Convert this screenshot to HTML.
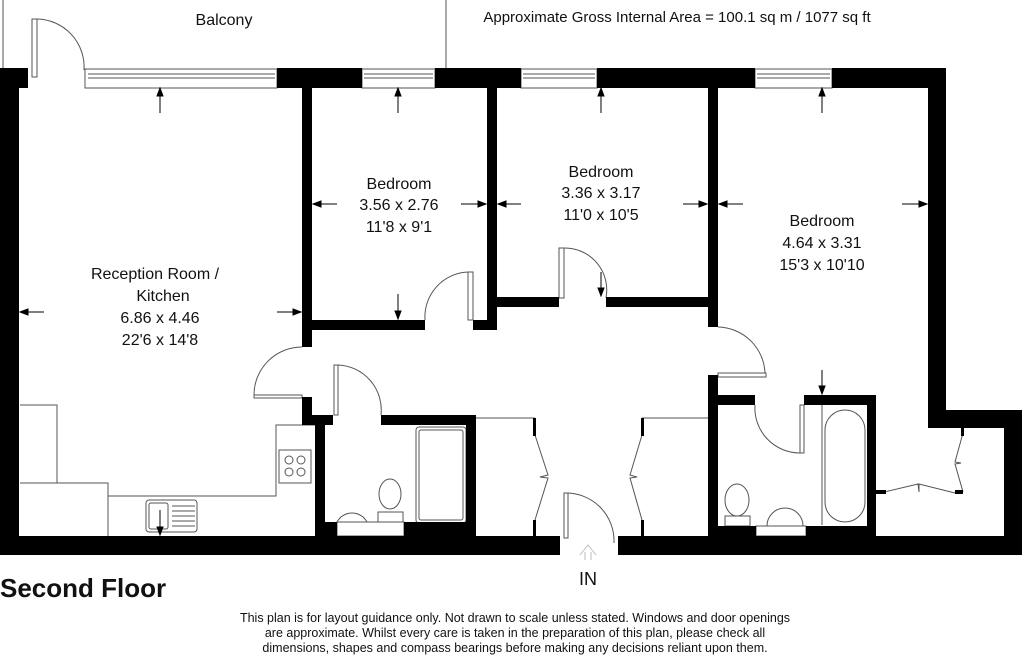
<!DOCTYPE html>
<html><head><style>
body{margin:0;background:#fff}
svg{display:block}
text{font-family:"Liberation Sans",Arial,sans-serif;fill:#111}
</style></head><body>
<svg width="1024" height="658" viewBox="0 0 1024 658" xmlns="http://www.w3.org/2000/svg">
<g fill="none" stroke="#555" stroke-width="1">
<line x1="3" y1="0" x2="3" y2="68"/>
<line x1="446" y1="0" x2="446" y2="68"/>
<rect x="85" y="69" width="192" height="19"/><line x1="88" y1="74" x2="275" y2="74"/><line x1="88" y1="78" x2="275" y2="78"/>
<rect x="362" y="69" width="73" height="19"/><line x1="364" y1="74" x2="433" y2="74"/><line x1="364" y1="78" x2="433" y2="78"/>
<rect x="521" y="69" width="76" height="19"/><line x1="523" y1="74" x2="595" y2="74"/><line x1="523" y1="78" x2="595" y2="78"/>
<rect x="755" y="69" width="77" height="19"/><line x1="757" y1="74" x2="830" y2="74"/><line x1="757" y1="78" x2="830" y2="78"/>
<rect x="32" y="19" width="5" height="58"/><path d="M37 19 A48 48 0 0 1 84 70"/>
<rect x="468" y="272" width="5" height="48"/><path d="M468 272 A45 45 0 0 0 425 320"/>
<rect x="559" y="248" width="5" height="50"/><path d="M564 248 A42 42 0 0 1 606 298"/>
<path d="M302 347 A48 48 0 0 0 254 395"/><rect x="254" y="395" width="48" height="3"/>
<rect x="334" y="365" width="4" height="50"/><path d="M338 365 A45 45 0 0 1 381 415"/>
<rect x="718" y="373" width="48" height="4"/><path d="M718 327 A48 48 0 0 1 765 373"/>
<path d="M755 405 A45 45 0 0 0 800 453"/><rect x="800" y="405" width="4" height="48"/>
<rect x="564" y="493" width="4" height="45"/><path d="M564 493 A48 48 0 0 1 614 543"/>
<line x1="535" y1="418" x2="535" y2="430"/>
<polyline points="535,435 548,475 540,477 548,478 535,520"/>
<polyline points="642,435 630,475 637,477 630,478 642,520"/>
<line x1="642" y1="418" x2="708" y2="418"/>
<line x1="476" y1="418" x2="535" y2="418"/>
<polyline points="880,493 918,484 919,492 919,484 955,493"/>
<polyline points="963,433 955,462 961,463 955,464 963,492"/>
<polyline points="20,405 57,405 57,483"/>
<polyline points="20,483 108,483 108,536"/>
<polyline points="108,496 276,496 276,425 315,425"/>
<rect x="279" y="450" width="32" height="33"/>
<circle cx="289" cy="460" r="4"/><circle cx="301" cy="460" r="4"/><circle cx="289" cy="472" r="4"/><circle cx="301" cy="472" r="4"/>
<rect x="146" y="500" width="51" height="32" rx="3"/><rect x="149" y="503" width="19" height="26" rx="2"/>
<line x1="172" y1="506" x2="195" y2="506"/><line x1="172" y1="511" x2="195" y2="511"/><line x1="172" y1="516" x2="195" y2="516"/><line x1="172" y1="521" x2="195" y2="521"/><line x1="172" y1="526" x2="195" y2="526"/>
<rect x="416" y="427" width="50" height="96" rx="3"/><rect x="419" y="430" width="44" height="90" rx="2"/>
<ellipse cx="390" cy="494" rx="11" ry="15"/><rect x="378" y="512" width="25" height="10"/>
<path d="M337 522 A17 17 0 0 1 367 522 Z"/><rect x="337" y="522" width="67" height="14"/>
<line x1="822" y1="405" x2="822" y2="525"/>
<rect x="825" y="410" width="40" height="112" rx="20"/>
<ellipse cx="737" cy="500" rx="12" ry="16"/><rect x="725" y="516" width="25" height="10"/>
<path d="M767 526 A18 18 0 0 1 803 526 Z"/><rect x="756" y="526" width="50" height="10"/>
</g>
<g fill="#000">
<rect x="0" y="68" width="28" height="20"/>
<rect x="277" y="68" width="85" height="20"/>
<rect x="435" y="68" width="86" height="20"/>
<rect x="597" y="68" width="158" height="20"/>
<rect x="832" y="68" width="114" height="20"/>
<rect x="0" y="68" width="19" height="487"/>
<rect x="928" y="68" width="18" height="360"/>
<rect x="928" y="410" width="94" height="18"/>
<rect x="1004" y="410" width="18" height="145"/>
<rect x="0" y="536" width="560" height="19"/>
<rect x="618" y="536" width="404" height="19"/>
<rect x="302" y="88" width="10" height="259"/>
<rect x="302" y="397" width="10" height="28"/>
<rect x="302" y="415" width="31" height="10"/>
<rect x="315" y="425" width="10" height="111"/>
<rect x="381" y="415" width="95" height="10"/>
<rect x="466" y="415" width="10" height="121"/>
<rect x="312" y="320" width="113" height="10"/>
<rect x="473" y="320" width="24" height="10"/>
<rect x="487" y="88" width="10" height="242"/>
<rect x="497" y="297" width="62" height="10"/>
<rect x="606" y="297" width="110" height="10"/>
<rect x="708" y="88" width="10" height="239"/>
<rect x="708" y="375" width="10" height="161"/>
<rect x="718" y="395" width="37" height="10"/>
<rect x="804" y="395" width="72" height="10"/>
<rect x="867" y="395" width="9" height="141"/>
<rect x="325" y="522" width="12" height="14"/>
<rect x="404" y="522" width="62" height="14"/>
<rect x="718" y="526" width="38" height="10"/>
<rect x="806" y="526" width="61" height="10"/>
<rect x="533" y="418" width="3" height="18"/><rect x="533" y="520" width="3" height="16"/>
<rect x="641" y="418" width="3" height="18"/><rect x="641" y="520" width="3" height="16"/>
<rect x="876" y="490" width="10" height="4"/><rect x="955" y="490" width="8" height="4"/>
<rect x="961" y="428" width="3" height="8"/>
</g>
<g stroke="#000" stroke-width="1">
<line x1="160" y1="90" x2="160" y2="113"/><polygon points="157,96 163,96 160,88"/>
<line x1="398" y1="90" x2="398" y2="113"/><polygon points="395,96 401,96 398,88"/>
<line x1="601" y1="90" x2="601" y2="113"/><polygon points="598,96 604,96 601,88"/>
<line x1="822" y1="90" x2="822" y2="113"/><polygon points="819,96 825,96 822,88"/>
<line x1="20" y1="312" x2="44" y2="312"/><polygon points="20,312 28,309 28,315"/>
<line x1="277" y1="312" x2="301" y2="312"/><polygon points="301,312 293,309 293,315"/>
<line x1="313" y1="204" x2="337" y2="204"/><polygon points="313,204 321,201 321,207"/>
<line x1="461" y1="204" x2="486" y2="204"/><polygon points="486,204 478,201 478,207"/>
<line x1="498" y1="204" x2="521" y2="204"/><polygon points="498,204 506,201 506,207"/>
<line x1="683" y1="204" x2="707" y2="204"/><polygon points="707,204 699,201 699,207"/>
<line x1="719" y1="204" x2="743" y2="204"/><polygon points="719,204 727,201 727,207"/>
<line x1="902" y1="204" x2="927" y2="204"/><polygon points="927,204 919,201 919,207"/>
<line x1="398" y1="294" x2="398" y2="319"/><polygon points="395,311 401,311 398,319"/>
<line x1="601" y1="272" x2="601" y2="296"/><polygon points="598,288 604,288 601,296"/>
<line x1="822" y1="370" x2="822" y2="394"/><polygon points="819,386 825,386 822,394"/>
<line x1="160" y1="510" x2="160" y2="535"/><polygon points="157,527 163,527 160,535"/>
</g>
<g fill="none" stroke="#bbb"><polyline points="580,555 588,545 596,555"/><line x1="585" y1="552" x2="585" y2="560"/><line x1="591" y1="552" x2="591" y2="560"/></g>
<g font-size="16" text-anchor="middle">
<text x="224" y="25">Balcony</text>
<text x="677" y="22" font-size="15">Approximate Gross Internal Area = 100.1 sq m / 1077 sq ft</text>
<text x="399" y="189">Bedroom</text><text x="399" y="210">3.56 x 2.76</text><text x="399" y="232">11'8 x 9'1</text>
<text x="601" y="177">Bedroom</text><text x="601" y="198">3.36 x 3.17</text><text x="601" y="220">11'0 x 10'5</text>
<text x="822" y="226">Bedroom</text><text x="822" y="248">4.64 x 3.31</text><text x="822" y="270">15'3 x 10'10</text>
<text x="155" y="279">Reception Room /</text><text x="163" y="301">Kitchen</text><text x="160" y="323">6.86 x 4.46</text><text x="160" y="345">22'6 x 14'8</text>
<text x="588" y="585" font-size="18">IN</text>
<text x="0" y="597" font-size="26" font-weight="bold" text-anchor="start">Second Floor</text>
<g font-size="12.5"><text x="515" y="622">This plan is for layout guidance only. Not drawn to scale unless stated. Windows and door openings</text>
<text x="515" y="637">are approximate. Whilst every care is taken in the preparation of this plan, please check all</text>
<text x="515" y="652">dimensions, shapes and compass bearings before making any decisions reliant upon them.</text></g>
</g>
</svg>
</body></html>
